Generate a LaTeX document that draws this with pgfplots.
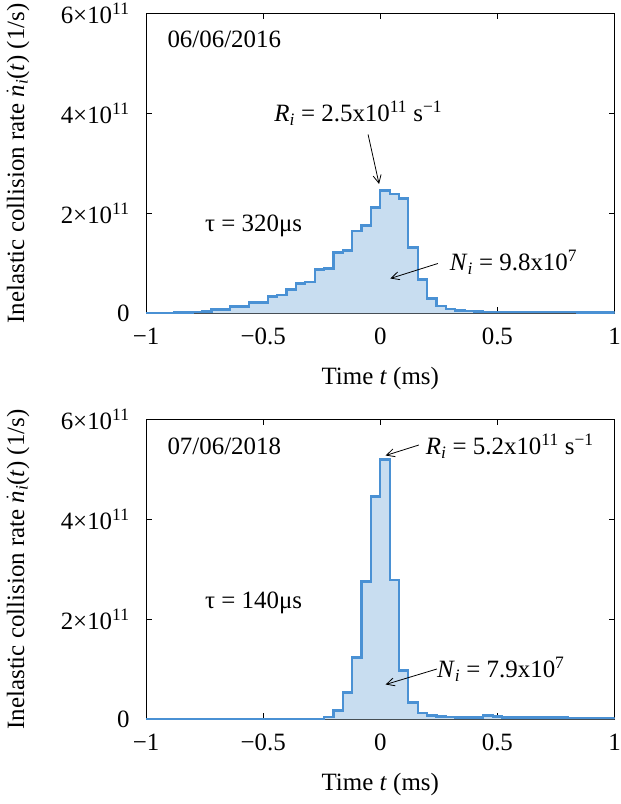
\documentclass[border=0pt]{standalone}
\usepackage{fontspec}
\setmainfont{Liberation Serif}
\usepackage{pgfplots}
\usepackage{pgfplotstable}
\pgfplotsset{compat=1.18}
\usetikzlibrary{arrows.meta}

\definecolor{lineblue}{RGB}{74,145,212}
\definecolor{fillblue}{RGB}{200,221,240}

% values in units of 1e11 1/s, left bin edges (ms)
\pgfplotstableread{
x y
-1.00 0.01
-0.96 0.01
-0.92 0.015
-0.88 0.02
-0.84 0.02
-0.80 0.03
-0.76 0.04
-0.72 0.08
-0.68 0.08
-0.64 0.14
-0.60 0.14
-0.56 0.22
-0.52 0.22
-0.48 0.34
-0.44 0.37
-0.40 0.48
-0.36 0.60
-0.32 0.63
-0.28 0.88
-0.24 0.90
-0.20 1.22
-0.16 1.26
-0.12 1.65
-0.08 1.76
-0.04 2.12
0.00 2.46
0.04 2.39
0.08 2.30
0.12 1.32
0.16 0.68
0.20 0.30
0.24 0.15
0.28 0.09
0.32 0.06
0.36 0.05
0.40 0.04
0.44 0.035
0.48 0.03
0.52 0.03
0.56 0.03
0.60 0.03
0.64 0.03
0.68 0.03
0.72 0.025
0.76 0.025
0.80 0.025
0.84 0.02
0.88 0.02
0.92 0.02
0.96 0.02
1.00 0.02
}\topdata

\pgfplotstableread{
x y
-1.00 0.005
-0.96 0.005
-0.92 0.005
-0.88 0.005
-0.84 0.005
-0.80 0.005
-0.76 0.005
-0.72 0.005
-0.68 0.005
-0.64 0.005
-0.60 0.005
-0.56 0.005
-0.52 0.005
-0.48 0.005
-0.44 0.005
-0.40 0.005
-0.36 0.005
-0.32 0.005
-0.28 0.01
-0.24 0.05
-0.20 0.18
-0.16 0.54
-0.12 1.24
-0.08 2.76
-0.04 4.46
0.00 5.20
0.04 2.79
0.08 0.98
0.12 0.34
0.16 0.13
0.20 0.08
0.24 0.06
0.28 0.05
0.32 0.04
0.36 0.04
0.40 0.04
0.44 0.08
0.48 0.06
0.52 0.04
0.56 0.04
0.60 0.04
0.64 0.04
0.68 0.04
0.72 0.04
0.76 0.04
0.80 0.035
0.84 0.035
0.88 0.03
0.92 0.03
0.96 0.03
1.00 0.03
}\botdata

\tikzset{arr/.style={-{Straight Barb[length=8bp,width=8bp]}, line width=0.8bp, black},
  ann/.style={anchor=base west, inner sep=0pt}}

\pgfplotsset{
  panel/.style={
    scale only axis, width=468.5bp, height=300bp,
    xmin=-1, xmax=1, ymin=0, ymax=6,
    xtick={-1,-0.5,0,0.5,1},
    xticklabels={−1,−0.5,0,0.5,1},
    ytick={0,2,4,6},
    yticklabels={0, 2×10\textsuperscript{11}, 4×10\textsuperscript{11}, 6×10\textsuperscript{11}},
    tick align=inside, major tick length=6bp,
    every tick/.style={black, line width=0.6bp},
    axis line style={line width=1bp},
    font=\fontsize{25}{29}\selectfont,
    xticklabel style={yshift=-11bp},
    yticklabel style={xshift=-13bp},
    xlabel={Time \textit{t} (ms)},
    ylabel={Inelastic collision rate $\dot{\mbox{\itshape n}}$\textsubscript{\textit{i}}(\textit{t}) (1/s)},
    every axis x label/.style={at={(axis description cs:0.5,0)}, anchor=center, yshift=-65bp},
    every axis y label/.style={at={(axis description cs:0,0.5)}, anchor=center, xshift=-128bp, rotate=90},
  },
  histfill/.style={const plot, fill=fillblue, draw=none, forget plot},
  histline/.style={const plot, draw=lineblue, line width=2.2bp, mark=none},
}

\begin{document}
\begin{tikzpicture}[x=1bp,y=1bp]
\path[use as bounding box] (0,0) rectangle (621,804);

\begin{axis}[panel, at={(146bp,490.5bp)}, anchor=south west]
  \addplot[histfill] table[x=x,y=y] {\topdata} \closedcycle;
  \addplot[histline] table[x=x,y=y] {\topdata};
  \node[ann] at (axis cs:-0.909,5.32) {06/06/2016};
  \node[ann] at (axis cs:-0.453,3.84) {\textit{R}\textsubscript{\textit{i}} = 2.5x10\textsuperscript{11} s\textsuperscript{−1}};
  \draw[arr] (axis cs:-0.052,3.58) -- (axis cs:-0.005,2.59);
  \node[ann] at (axis cs:-0.748,1.64) {τ = 320μs};
  \node[ann] at (axis cs:0.296,0.86) {\textit{N}\textsubscript{\textit{i}} = 9.8x10\textsuperscript{7}};
  \draw[arr] (axis cs:0.246,1.00) -- (axis cs:0.043,0.70);
\end{axis}

\begin{axis}[panel, at={(146bp,84.5bp)}, anchor=south west]
  \addplot[histfill] table[x=x,y=y] {\botdata} \closedcycle;
  \addplot[histline] table[x=x,y=y] {\botdata};
  \node[ann] at (axis cs:-0.909,5.30) {07/06/2018};
  \node[ann] at (axis cs:0.194,5.30) {\textit{R}\textsubscript{\textit{i}} = 5.2x10\textsuperscript{11} s\textsuperscript{−1}};
  \draw[arr] (axis cs:0.165,5.49) -- (axis cs:0.023,5.28);
  \node[ann] at (axis cs:-0.748,2.22) {τ = 140μs};
  \node[ann] at (axis cs:0.242,0.84) {\textit{N}\textsubscript{\textit{i}} = 7.9x10\textsuperscript{7}};
  \draw[arr] (axis cs:0.242,1.01) -- (axis cs:0.023,0.70);
\end{axis}
\end{tikzpicture}
\end{document}
